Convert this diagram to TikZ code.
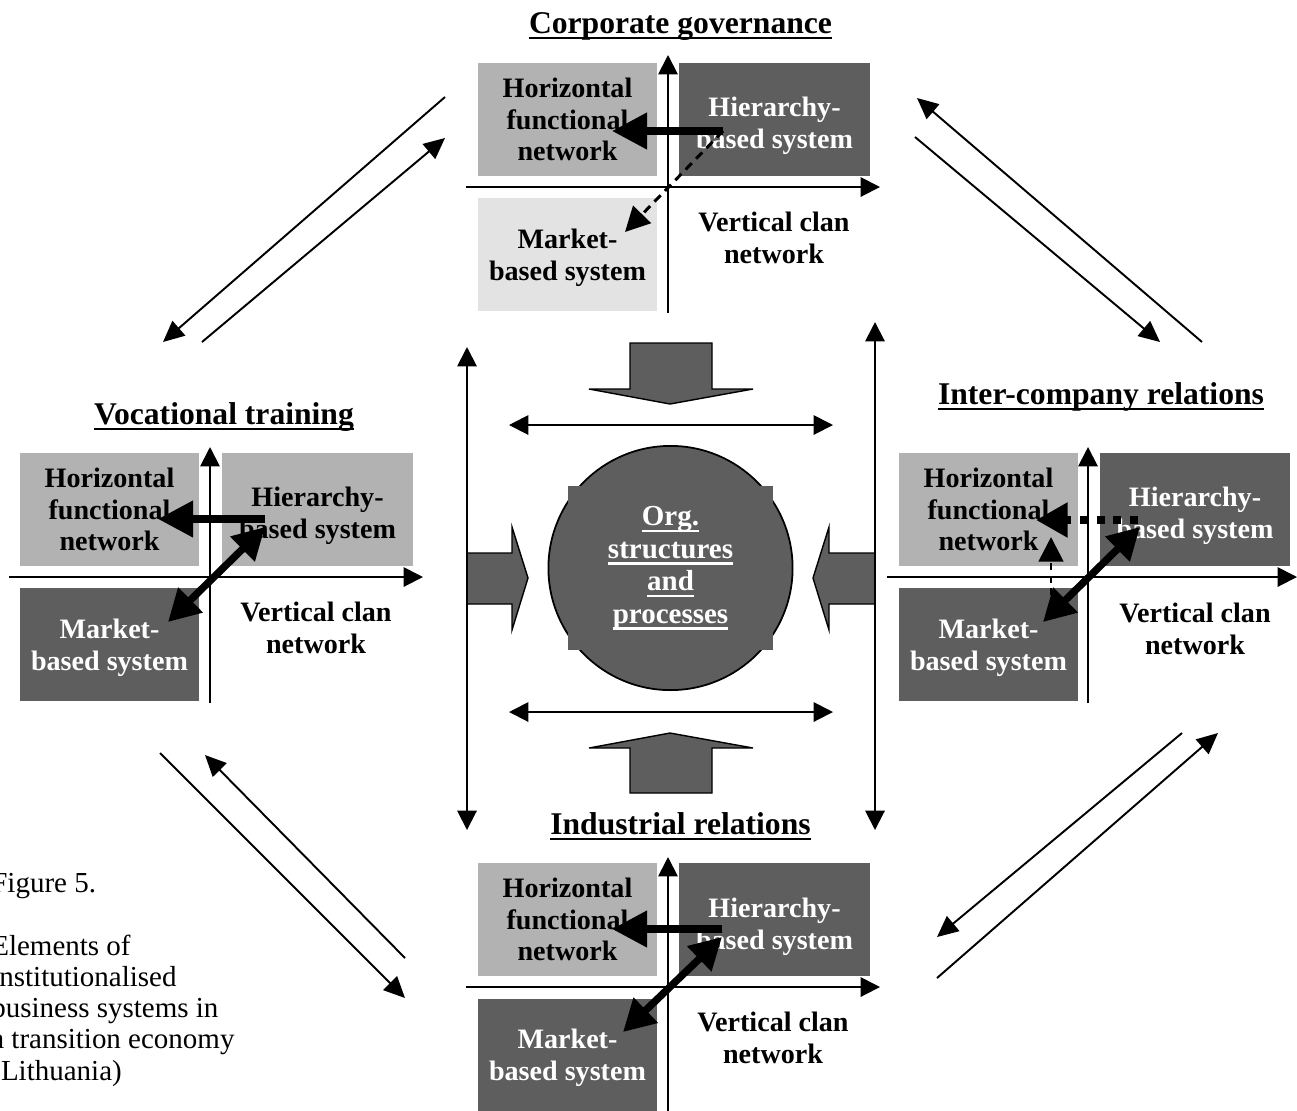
\documentclass[tikz,border=0pt]{standalone}
\usepackage{fontspec}
\setmainfont{Liberation Serif}
\usetikzlibrary{arrows.meta}
\definecolor{boxlight}{gray}{0.70}
\definecolor{boxdark}{gray}{0.37}
\definecolor{boxpale}{gray}{0.89}
% underline set a little below the baseline, crossing descenders
\newcommand\ulline[1]{\setbox0\hbox{#1}\rlap{\rule[-3.6pt]{\wd0}{1.2pt}}\box0}
\begin{document}
\begin{tikzpicture}[x=0.02cm,y=-0.02cm,
  txt/.style={font=\bfseries\fontsize{16}{18.1}\selectfont, align=center, inner sep=0pt},
  qbox/.style={inner sep=0pt, minimum height=64.1pt, minimum width=101.5pt},
  widebox/.style={qbox, minimum width=108.3pt},
  title/.style={font=\bfseries\fontsize{18}{21}\selectfont, inner sep=0pt, anchor=base},
  axisline/.style={line width=1.1pt, -{Triangle[length=11pt,width=11pt]}},
  linkarrow/.style={line width=1.1pt, -{Triangle[length=12pt,width=11pt]}},
  linkboth/.style={line width=1.1pt, {Triangle[length=11pt,width=11pt]}-{Triangle[length=11pt,width=11pt]}},
  heavy/.style={line width=4.2pt, -{Triangle[length=20pt,width=20pt]}},
  heavyboth/.style={line width=4.2pt, {Triangle[length=18pt,width=19pt]}-{Triangle[length=18pt,width=19pt]}},
  dotarrow/.style={line width=4.2pt, dash pattern=on 4.5pt off 5pt, -{Triangle[length=18pt,width=19pt]}},
  dasharrow/.style={line width=1.7pt, dash pattern=on 5pt off 3.5pt, -{Triangle[length=14pt,width=14pt]}},
  block/.style={draw=black, line width=0.8pt, fill=boxdark, line join=miter}]
\useasboundingbox (0,0) rectangle (1297,1110);

% ---------- Corporate governance (top) ----------
\node[title] (tCG) at (680.5,33) {\ulline{Corporate governance}};
\begin{scope}[shift={(668,187)}]
  \node[qbox, fill=boxlight] (cgH) at (-100.5,-67.5) {};
  \node[widebox, fill=boxdark] (cgR) at (106.5,-67.5) {};
  \node[qbox, fill=boxpale] (cgM) at (-100.5,67.5) {};
  \node[txt] (cgHt) at (-100.5,-67.5) {Horizontal\\functional\\network};
  \node[txt, text=white] (cgRt) at (106.5,-61) {Hierarchy-\\based system};
  \node[txt] (cgMt) at (-100.5,71) {Market-\\based system};
  \node[txt] (cgV) at (106,51) {Vertical clan\\network};
  \coordinate (cgXl) at (-202,0); \coordinate (cgXr) at (212,0);
  \coordinate (cgYb) at (0,126);  \coordinate (cgYt) at (0,-132);
  \draw[axisline] (cgXl) -- (cgXr);
  \draw[axisline] (cgYb) -- (cgYt);
  \coordinate (cgA) at (55,-56); \coordinate (cgB) at (-56,-56); \coordinate (cgC) at (-43,45);
  \draw[heavy] (cgA) -- (cgB);
  \draw[dasharrow] (cgA) -- (cgC);
\end{scope}

% ---------- Vocational training (left) ----------
\node[title] (tVT) at (224,424) {\ulline{Vocational training}};
\begin{scope}[shift={(210,577)}]
  \node[qbox, fill=boxlight] (vtH) at (-100.5,-67.5) {};
  \node[widebox, fill=boxlight] (vtR) at (107.5,-67.5) {};
  \node[qbox, fill=boxdark] (vtM) at (-100.5,67.5) {};
  \node[txt] (vtHt) at (-100.5,-67.5) {Horizontal\\functional\\network};
  \node[txt] (vtRt) at (107.5,-61) {Hierarchy-\\based system};
  \node[txt, text=white] (vtMt) at (-100.5,71) {Market-\\based system};
  \node[txt] (vtV) at (106,51) {Vertical clan\\network};
  \coordinate (vtXl) at (-201,0); \coordinate (vtXr) at (213,0);
  \coordinate (vtYb) at (0,126);  \coordinate (vtYt) at (0,-130);
  \draw[axisline] (vtXl) -- (vtXr);
  \draw[axisline] (vtYb) -- (vtYt);
  \coordinate (vtA) at (55,-58); \coordinate (vtB) at (-52,-58);
  \coordinate (vtC) at (-42,45); \coordinate (vtD) at (55,-50);
  \draw[heavy] (vtA) -- (vtB);
  \draw[heavyboth] (vtC) -- (vtD);
\end{scope}

% ---------- Inter-company relations (right) ----------
\node[title] (tIC) at (1101,404) {\ulline{Inter-company relations}};
\begin{scope}[shift={(1088,577)}]
  \node[qbox, fill=boxlight] (icH) at (-99.5,-67.5) {};
  \node[widebox, fill=boxdark] (icR) at (107,-67.5) {};
  \node[qbox, fill=boxdark] (icM) at (-99.5,67.5) {};
  \node[txt] (icHt) at (-99.5,-67.5) {Horizontal\\functional\\network};
  \node[txt, text=white] (icRt) at (107,-61) {Hierarchy-\\based system};
  \node[txt, text=white] (icMt) at (-99.5,71) {Market-\\based system};
  \node[txt] (icV) at (107,51.5) {Vertical clan\\network};
  \coordinate (icXl) at (-201,0); \coordinate (icXr) at (209,0);
  \coordinate (icYb) at (0,126);  \coordinate (icYt) at (0,-130);
  \draw[axisline] (icXl) -- (icXr);
  \draw[axisline] (icYb) -- (icYt);
  \coordinate (icA) at (50,-57); \coordinate (icB) at (-52,-57);
  \coordinate (icD) at (-37,18); \coordinate (icE) at (-37,-40);
  \coordinate (icF) at (-45,45); \coordinate (icG) at (52,-50);
  \draw[dotarrow] (icA) -- (icB);
  \draw[dasharrow, line width=1.6pt, dash pattern=on 4pt off 3pt] (icD) -- (icE);
  \draw[heavyboth] (icF) -- (icG);
\end{scope}

% ---------- Industrial relations (bottom) ----------
\node[title] (tIR) at (680.5,834) {\ulline{Industrial relations}};
\begin{scope}[shift={(668,987)}]
  \node[qbox, fill=boxlight] (irH) at (-100.5,-67.5) {};
  \node[widebox, fill=boxdark] (irR) at (106.5,-67.5) {};
  \node[qbox, fill=boxdark] (irM) at (-100.5,68.5) {};
  \node[txt] (irHt) at (-100.5,-67.5) {Horizontal\\functional\\network};
  \node[txt, text=white] (irRt) at (106.5,-60) {Hierarchy-\\based system};
  \node[txt, text=white] (irMt) at (-100.5,71) {Market-\\based system};
  \node[txt] (irV) at (105,51) {Vertical clan\\network};
  \coordinate (irXl) at (-202,0); \coordinate (irXr) at (212,0);
  \coordinate (irYb) at (0,130);  \coordinate (irYt) at (0,-130);
  \draw[axisline] (irXl) -- (irXr);
  \draw[axisline] (irYb) -- (irYt);
  \coordinate (irA) at (54,-58); \coordinate (irB) at (-56,-58);
  \coordinate (irC) at (-45,45); \coordinate (irD) at (54,-50);
  \draw[heavy] (irA) -- (irB);
  \draw[heavyboth] (irC) -- (irD);
\end{scope}

% ---------- centre: organisational structures ----------
\node[circle, draw=black, line width=1pt, fill=boxdark, minimum size=139pt, inner sep=0pt] (orgC) at (670.5,568) {};
\node[txt, fill=boxdark, text=white, minimum width=116.2pt, minimum height=93pt,
      font=\bfseries\fontsize{16.5}{18.5}\selectfont] (org) at (670.5,568)
  {\ulline{Org.}\\\ulline{structures}\\\ulline{and}\\\ulline{processes}};

% block arrows pressing on the centre
\filldraw[block] (630,343) -- (712,343) -- (712,389) -- (753,389) -- (670,404) -- (589,389) -- (630,389) -- cycle;
\filldraw[block] (630,793) -- (712,793) -- (712,748) -- (753,748) -- (670,733) -- (589,748) -- (630,748) -- cycle;
\filldraw[block] (467,553) -- (512,553) -- (512,527) -- (528,578) -- (512,630) -- (512,604) -- (467,604) -- cycle;
\filldraw[block] (875,553) -- (829,553) -- (829,527) -- (813,578) -- (829,630) -- (829,604) -- (875,604) -- cycle;

% two-way arrows framing the centre
\coordinate (vl1) at (467,347); \coordinate (vl2) at (467,830);
\coordinate (vr1) at (875,322); \coordinate (vr2) at (875,830);
\coordinate (ht1) at (509,425); \coordinate (ht2) at (833,425);
\coordinate (hb1) at (509,712); \coordinate (hb2) at (833,712);
\draw[linkboth] (vl1) -- (vl2);
\draw[linkboth] (vr1) -- (vr2);
\draw[linkboth] (ht1) -- (ht2);
\draw[linkboth] (hb1) -- (hb2);

% diagonal links between the four institutions
\coordinate (d1a) at (445,97);   \coordinate (d1b) at (163,342);
\coordinate (d2a) at (202,342);  \coordinate (d2b) at (445,138);
\coordinate (d3a) at (1202,342); \coordinate (d3b) at (917,98);
\coordinate (d4a) at (915,137);  \coordinate (d4b) at (1160,342);
\coordinate (d5a) at (160,753);  \coordinate (d5b) at (405,998);
\coordinate (d6a) at (405,958);  \coordinate (d6b) at (205,755);
\coordinate (d7a) at (1182,733); \coordinate (d7b) at (937,937);
\coordinate (d8a) at (937,978);  \coordinate (d8b) at (1218,733);
\draw[linkarrow] (d1a) -- (d1b);
\draw[linkarrow] (d2a) -- (d2b);
\draw[linkarrow] (d3a) -- (d3b);
\draw[linkarrow] (d4a) -- (d4b);
\draw[linkarrow] (d5a) -- (d5b);
\draw[linkarrow] (d6a) -- (d6b);
\draw[linkarrow] (d7a) -- (d7b);
\draw[linkarrow] (d8a) -- (d8b);

% caption
\node[anchor=north west, align=left, inner sep=0pt, font=\fontsize{16.5}{17.8}\selectfont] (cap) at (-9,873)
  {Figure 5.\\[17.8pt]Elements of\\institutionalised\\business systems in\\a transition economy\\(Lithuania)};
\end{tikzpicture}
\end{document}
